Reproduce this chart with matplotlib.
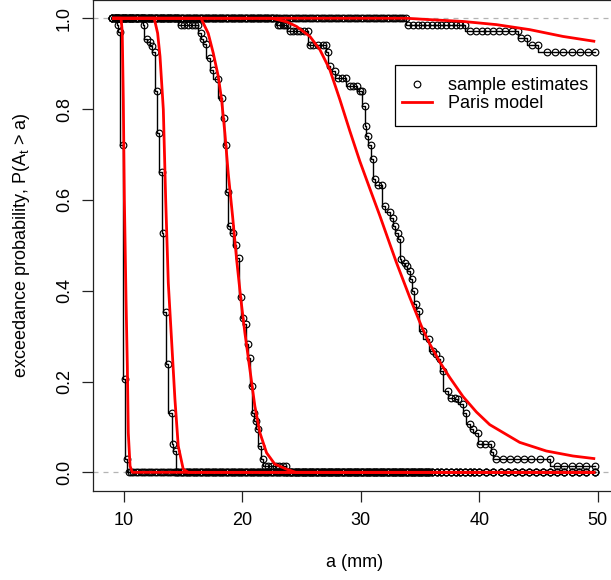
import matplotlib
matplotlib.use('Agg')
import matplotlib.pyplot as plt
from matplotlib.lines import Line2D
from matplotlib.patches import Rectangle

plt.rcParams['font.family'] = ['Liberation Sans', 'DejaVu Sans']
plt.rcParams['mathtext.fontset'] = 'custom'
plt.rcParams['mathtext.rm'] = 'Liberation Sans'
plt.rcParams['mathtext.it'] = 'Liberation Sans:italic'

# ---------------- data ----------------
# crack-length measurement grid (mm) at which the sample estimates are drawn
a_grid = [
    9.0, 9.2, 9.4, 9.6, 9.8, 10.0, 10.2, 10.4, 10.6, 10.8,
    11.0, 11.2, 11.4, 11.6, 11.8, 12.0, 12.2, 12.4, 12.6, 12.8,
    13.0, 13.2, 13.4, 13.6, 13.8, 14.0, 14.2, 14.4, 14.6, 14.8,
    15.0, 15.2, 15.4, 15.6, 15.8, 16.0, 16.2, 16.4, 16.6, 16.8,
    17.0, 17.2, 17.4, 17.6, 17.8, 18.0, 18.2, 18.4, 18.6, 18.8,
    19.0, 19.2, 19.4, 19.6, 19.8, 20.0, 20.2, 20.4, 20.6, 20.8,
    21.0, 21.2, 21.4, 21.6, 21.8, 22.0, 22.2, 22.4, 22.6, 22.8,
    23.0, 23.2, 23.4, 23.6, 23.8, 24.0, 24.2, 24.4, 24.6, 24.8,
    25.0, 25.2, 25.4, 25.6, 25.8, 26.0, 26.2, 26.4, 26.6, 26.8,
    27.0, 27.2, 27.4, 27.6, 27.8, 28.0, 28.2, 28.4, 28.6, 28.8,
    29.0, 29.2, 29.4, 29.6, 29.8, 30.0, 30.2, 30.4, 30.6, 30.8,
    31.0, 31.2, 31.4, 31.6, 31.8, 32.0, 32.2, 32.4, 32.6, 32.8,
    33.0, 33.2, 33.4, 33.6, 33.8, 34.0, 34.2, 34.4, 34.6, 34.8,
    35.0, 35.2, 35.4, 35.6, 35.8, 36.0, 36.4, 36.8, 37.2, 37.6,
    38.0, 38.4, 38.8, 39.2, 39.6, 40.0, 40.6, 41.2, 41.8, 42.4,
    43.0, 43.6, 44.2, 44.8, 45.4, 46.0, 46.6, 47.2, 47.8, 48.4,
    49.0, 49.8,
]

# sample estimates: the part of each step curve that lies between 0 and 1
g1_a = [9.52, 9.66, 9.94, 10.08, 10.28]
g1_p = [0.985, 0.970, 0.720, 0.206, 0.030]

g2_a = [11.71, 11.97, 12.19, 12.39, 12.62, 12.75, 12.95, 13.18, 13.32, 13.52,
        13.74, 14.03, 14.16, 14.39]
g2_p = [0.985, 0.954, 0.947, 0.938, 0.925, 0.839, 0.747, 0.662, 0.527, 0.353,
        0.238, 0.131, 0.062, 0.047]

g3_a = [14.8, 15.1, 15.4, 15.7, 16.0, 16.27, 16.47, 16.64, 16.92, 17.26,
        17.49, 17.96, 18.24, 18.46, 18.65, 18.80, 18.95, 19.17, 19.45, 19.70,
        19.90, 20.05, 20.27, 20.50, 20.65, 20.78, 21.00, 21.14, 21.28, 21.56,
        21.75, 21.90, 22.2, 22.5, 22.8, 23.1, 23.4, 23.7]
g3_p = [0.985, 0.985, 0.985, 0.985, 0.985, 0.985, 0.967, 0.954, 0.944, 0.912,
        0.887, 0.867, 0.824, 0.780, 0.720, 0.618, 0.543, 0.527, 0.500, 0.471,
        0.386, 0.340, 0.326, 0.283, 0.251, 0.190, 0.131, 0.113, 0.095, 0.059,
        0.029, 0.015, 0.015, 0.015, 0.015, 0.015, 0.015, 0.015]

g4_a = [23.0, 23.2, 23.4, 23.6, 23.8, 24.0, 24.3, 24.6, 24.9, 25.2,
        25.5, 25.7, 26.0, 26.4, 26.8, 27.1, 27.24, 27.38, 27.81, 28.08,
        28.37, 28.79, 29.07, 29.35, 29.69, 29.92, 30.11, 30.34, 30.42, 30.62,
        30.84, 30.99, 31.18, 31.46, 31.75, 32.03, 32.45, 32.73, 32.87, 33.15,
        33.29, 33.43, 33.71, 33.91, 34.14, 34.36, 34.47, 34.64, 34.92, 35.26,
        35.76, 36.10, 36.39, 36.67, 36.95, 37.37, 37.65, 37.93, 38.21, 38.63,
        38.92, 39.20, 39.48, 39.90, 40.04, 40.46, 41.03, 41.16, 41.45, 42.0,
        42.6, 43.2, 43.8, 44.4, 45.1, 45.95, 46.6, 47.2, 47.8, 48.4,
        49.0, 49.8]
g4_p = [0.985, 0.985, 0.985, 0.985, 0.985, 0.971, 0.971, 0.971, 0.971, 0.971,
        0.971, 0.942, 0.942, 0.942, 0.942, 0.942, 0.925, 0.894, 0.883, 0.868,
        0.868, 0.868, 0.851, 0.851, 0.851, 0.839, 0.839, 0.807, 0.763, 0.740,
        0.720, 0.689, 0.645, 0.632, 0.632, 0.587, 0.574, 0.560, 0.542, 0.527,
        0.514, 0.469, 0.461, 0.455, 0.443, 0.426, 0.399, 0.370, 0.355, 0.311,
        0.293, 0.267, 0.260, 0.250, 0.223, 0.179, 0.164, 0.164, 0.161, 0.150,
        0.131, 0.106, 0.095, 0.087, 0.062, 0.062, 0.062, 0.044, 0.029, 0.029,
        0.029, 0.029, 0.029, 0.029, 0.029, 0.029, 0.015, 0.015, 0.015, 0.015,
        0.015, 0.015]

g5_a = [34.0, 34.4, 34.8, 35.2, 35.6, 36.0, 36.4, 36.8, 37.2, 37.6,
        38.0, 38.4, 38.8, 39.2, 39.7, 40.2, 40.7, 41.2, 41.7, 42.2,
        42.8, 43.3, 43.5, 44.0, 44.5, 45.0, 45.7, 46.4, 47.1, 47.8,
        48.5, 49.2, 49.8]
g5_p = [0.985, 0.985, 0.985, 0.985, 0.985, 0.985, 0.985, 0.985, 0.985, 0.985,
        0.985, 0.985, 0.985, 0.971, 0.971, 0.971, 0.971, 0.971, 0.971, 0.971,
        0.971, 0.971, 0.956, 0.956, 0.941, 0.941, 0.926, 0.926, 0.926, 0.926,
        0.926, 0.926, 0.926]

# Paris model curves
r1_a = [9.0, 9.75, 9.85, 9.94, 10.03, 10.17, 10.28, 10.36, 10.51, 10.70, 49.8]
r1_p = [1.0, 1.0, 0.97, 0.82, 0.60, 0.38, 0.234, 0.087, 0.014, 0.0, 0.0]

r2_a = [9.0, 12.55, 12.84, 13.04, 13.32, 13.52, 13.74, 14.03, 14.30, 14.58, 15.0, 15.43, 49.8]
r2_p = [1.0, 1.0, 0.967, 0.916, 0.799, 0.60, 0.417, 0.285, 0.161, 0.058, 0.007, 0.0, 0.0]

r3_a = [9.0, 16.5, 17.11, 17.54, 17.96, 18.24, 18.52, 18.80, 19.17, 19.51,
        19.87, 20.21, 20.63, 21.05, 21.48, 22.04, 22.74, 23.73, 24.5, 49.8]
r3_p = [1.0, 1.0, 0.967, 0.923, 0.872, 0.821, 0.747, 0.659, 0.564, 0.469,
        0.381, 0.307, 0.227, 0.146, 0.087, 0.043, 0.018, 0.007, 0.0, 0.0]

r4_a = [9.0, 22.5, 23.76, 24.57, 25.70, 26.54, 27.38, 28.23, 29.07, 29.92,
        30.76, 31.61, 32.45, 33.01, 34.14, 35.12, 35.82, 36.67, 37.51, 38.63,
        39.76, 40.89, 43.42, 45.67, 47.92, 49.8]
r4_p = [1.0, 1.0, 0.992, 0.982, 0.960, 0.931, 0.887, 0.821, 0.752, 0.685,
        0.625, 0.565, 0.503, 0.462, 0.385, 0.322, 0.283, 0.243, 0.209, 0.167,
        0.133, 0.105, 0.066, 0.047, 0.036, 0.030]

r5_a = [9.0, 33.86, 35.82, 38.63, 41.45, 44.26, 47.07, 49.8]
r5_p = [1.0, 1.0, 0.997, 0.993, 0.986, 0.975, 0.960, 0.949]

x_ticks = [10, 20, 30, 40, 50]
y_ticks = [0.0, 0.2, 0.4, 0.6, 0.8, 1.0]
y_tick_labels = ['0.0', '0.2', '0.4', '0.6', '0.8', '1.0']

groups = [(g1_a, g1_p), (g2_a, g2_p), (g3_a, g3_p), (g4_a, g4_p), (g5_a, g5_p)]
reds = [(r1_a, r1_p), (r2_a, r2_p), (r3_a, r3_p), (r4_a, r4_p), (r5_a, r5_p)]

# ---------------- plot ----------------
FS = 13
W, H = 611, 580
fig = plt.figure(figsize=(W / 100, H / 100), dpi=100)
ax = fig.add_axes([93 / W, (H - 490.5) / H, 524 / W, 490.4 / H])
ax.set_xlim(7.38, 51.64)
ax.set_ylim(-0.04, 1.04)

for yref in (0.0, 1.0):
    ax.axhline(yref, color='#b4b4b4', lw=0.9, ls=(0, (4, 4)), zorder=0)

for ta, tp in groups:
    top = [a for a in a_grid if a < ta[0]]
    bot = [a for a in a_grid if a > ta[-1]]
    xs = top + list(ta) + bot
    ys = [1.0] * len(top) + list(tp) + [0.0] * len(bot)
    ax.step(xs, ys, where='pre', color='black', lw=1.0, zorder=2)
    ax.plot(xs, ys, ls='none', marker='o', ms=4.8, mfc='none', mec='black',
            mew=0.85, zorder=3)

for ra, rp in reds:
    ax.plot(ra, rp, color='red', lw=2.0, zorder=4, solid_capstyle='butt',
            solid_joinstyle='round')

ax.set_xticks(x_ticks)
ax.set_yticks(y_ticks)
ax.set_yticklabels(y_tick_labels, rotation=90, va='center')
ax.tick_params(axis='both', direction='out', length=8, width=0.9,
               labelsize=FS, color='#222222')
ax.tick_params(axis='x', pad=7.5)
ax.tick_params(axis='y', pad=6.5)
for s in ax.spines.values():
    s.set_color('#222222')
    s.set_linewidth(0.9)

ax.set_xlabel('a (mm)', fontsize=FS, labelpad=18)
ax.set_ylabel(r'exceedance probability, P(A$_\mathrm{t}$ > a)', fontsize=FS,
              labelpad=17)

# legend box (frame drawn separately so that its padding matches the original)
fig.add_artist(Rectangle((395 / W, 1 - 126 / H), 201 / W, 61 / H,
                         transform=fig.transFigure, facecolor='white',
                         edgecolor='black', lw=0.9, zorder=4.5))
handles = [
    Line2D([], [], ls='none', marker='o', ms=4.8, mfc='none', mec='black', mew=0.85),
    Line2D([], [], color='red', lw=2.0),
]
leg = fig.legend(handles, ['sample estimates', 'Paris model'],
                 loc='upper left', bbox_to_anchor=(402 / W, 1 - 77 / H),
                 bbox_transform=fig.transFigure, fontsize=FS,
                 frameon=False, borderpad=0.0, labelspacing=0.08,
                 handlelength=1.67, handletextpad=0.89, borderaxespad=0)
leg.set_zorder(5)

fig.savefig('out.png', dpi=100)
